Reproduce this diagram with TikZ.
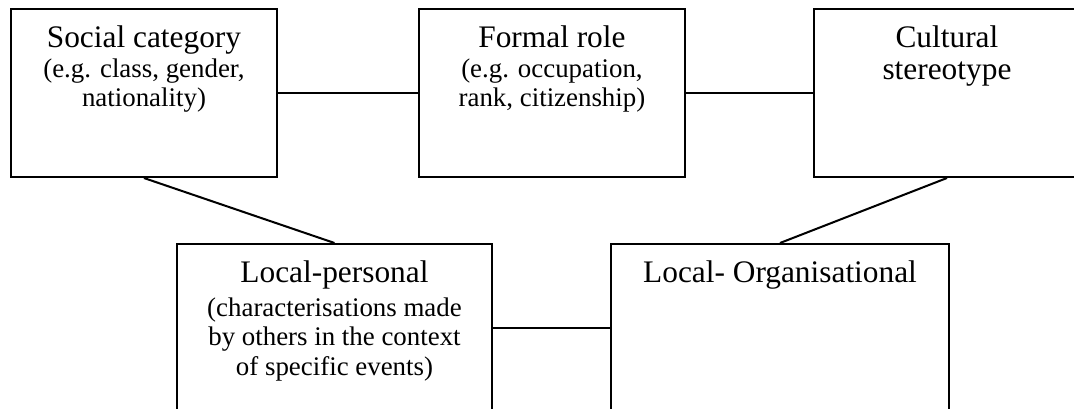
\documentclass[tikz,border=0pt]{standalone}
\usepackage{fontspec}
\setmainfont{Liberation Serif}
\usetikzlibrary{positioning}

\begin{document}
\begin{tikzpicture}[x=0.4464pt,y=-0.4464pt,
  box/.style={draw,line width=0.9pt,rectangle,anchor=north west,minimum height=75pt},
  boxtext/.style={inner sep=0pt,align=center,font=\fontsize{12}{13.1}\selectfont},
  link/.style={-,line width=0.9pt}]

\useasboundingbox (0,0) rectangle (1074,409);
\clip (0,0) rectangle (1074,409);

% top row
\node [box,minimum width=118.7pt] at (10,8)  (social)   {};
\node [box,minimum width=118.7pt] at (418,8) (formal)   {};
\node [box,minimum width=118.7pt] at (813,8) (cultural) {};

% bottom row
\node [box,minimum width=140.6pt] at (176,243) (lpers) {};
\node [box,minimum width=150.9pt] at (610,243) (lorg)  {};

\node [boxtext,below=7.8pt of social.north]
  {{\fontsize{14}{14}\selectfont Social category}\\(e.g. class, gender,\\nationality)};
\node [boxtext,below=7.8pt of formal.north]
  {{\fontsize{14}{14}\selectfont Formal role}\\(e.g. occupation,\\rank, citizenship)};
\node [boxtext,below=7.8pt of cultural.north,font=\fontsize{14}{14.4}\selectfont]
  {Cultural\\stereotype};
\node [boxtext,below=7.8pt of lpers.north]
  {{\fontsize{14}{14}\selectfont Local-personal}\\[2pt](characterisations made\\by others in the context\\of specific events)};
\node [boxtext,below=7.8pt of lorg.north,font=\fontsize{14}{14}\selectfont]
  {Local- Organisational};

\path[link] (social) edge (formal);
\path[link] (formal) edge (cultural);
\path[link] (social.south) edge (lpers.north);
\path[link] (cultural.south) edge (lorg.north);
\path[link] (lpers) edge (lorg);

\end{tikzpicture}
\end{document}
